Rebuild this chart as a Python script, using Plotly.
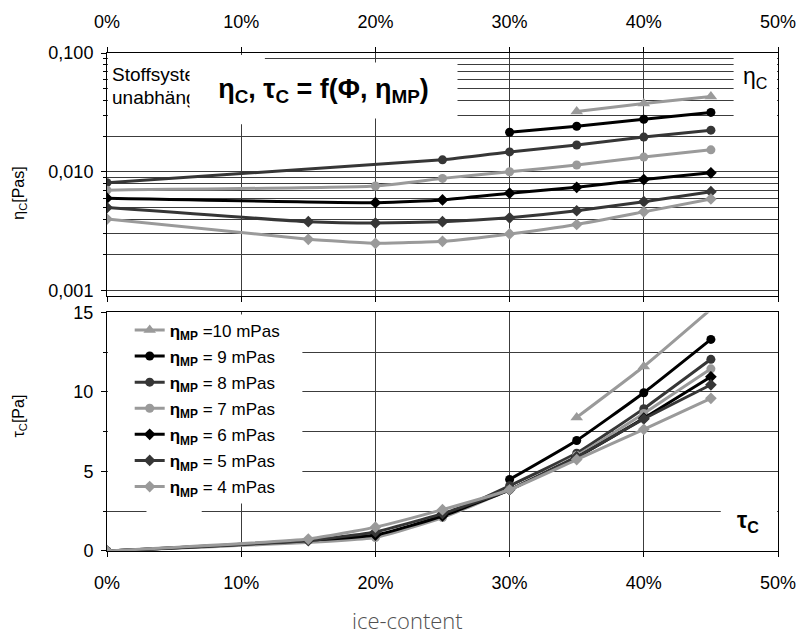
import plotly.graph_objects as go

# ---------------- data ----------------
series_names = ["=10 mPas", "= 9 mPas", "= 8 mPas", "= 7 mPas", "= 6 mPas", "= 5 mPas", "= 4 mPas"]
colors = ["#9a9a9a", "#000000", "#363636", "#9a9a9a", "#000000", "#363636", "#9a9a9a"]
symbols = ["triangle-up", "circle", "circle", "circle", "diamond", "diamond", "diamond"]

# ice content (fraction) for each series - upper chart (eta_C)
x10 = [0.35, 0.40, 0.45]
x9 = [0.30, 0.35, 0.40, 0.45]
x8 = [0.0, 0.25, 0.30, 0.35, 0.40, 0.45]
x7 = [0.0, 0.20, 0.25, 0.30, 0.35, 0.40, 0.45]
x6 = [0.0, 0.20, 0.25, 0.30, 0.35, 0.40, 0.45]
x5 = [0.0, 0.15, 0.20, 0.25, 0.30, 0.35, 0.40, 0.45]
x4 = [0.0, 0.15, 0.20, 0.25, 0.30, 0.35, 0.40, 0.45]

# eta_C [Pas]
eta10 = [0.0322, 0.0376, 0.0430]
eta9 = [0.0215, 0.0242, 0.0277, 0.0316]
eta8 = [0.0081, 0.0126, 0.0147, 0.0168, 0.0196, 0.0224]
eta7 = [0.0070, 0.0076, 0.0088, 0.0100, 0.0114, 0.0133, 0.0153]
eta6 = [0.0060, 0.0055, 0.0058, 0.0066, 0.0074, 0.0086, 0.0098]
eta5 = [0.0050, 0.0038, 0.0037, 0.0038, 0.0041, 0.0047, 0.0056, 0.0068]
eta4 = [0.0040, 0.0027, 0.0025, 0.0026, 0.0030, 0.0036, 0.0046, 0.0059]

# ice content for lower chart (tau_C)
xt10 = [0.35, 0.40, 0.45]
xt9 = [0.30, 0.35, 0.40, 0.45]
xt8 = [0.0, 0.20, 0.25, 0.30, 0.35, 0.40, 0.45]
xt7 = [0.0, 0.20, 0.25, 0.30, 0.35, 0.40, 0.45]
xt6 = [0.0, 0.20, 0.25, 0.30, 0.35, 0.40, 0.45]
xt5 = [0.0, 0.15, 0.20, 0.25, 0.30, 0.35, 0.40, 0.45]
xt4 = [0.0, 0.15, 0.20, 0.25, 0.30, 0.35, 0.40, 0.45]

# tau_C [Pa]
tau10 = [8.4, 11.6, 15.2]
tau9 = [4.5, 6.95, 9.95, 13.3]
tau8 = [0.0, 0.95, 2.2, 4.1, 6.15, 8.95, 12.05]
tau7 = [0.0, 0.85, 2.1, 3.85, 6.0, 8.65, 11.45]
tau6 = [0.0, 1.0, 2.2, 3.85, 5.9, 8.35, 10.95]
tau5 = [0.0, 0.65, 1.2, 2.35, 3.85, 5.9, 8.3, 10.45]
tau4 = [0.0, 0.75, 1.5, 2.6, 3.85, 5.75, 7.65, 9.6]

x_ticks = [0.0, 0.1, 0.2, 0.3, 0.4, 0.5]
eta_ticks = [0.001, 0.01, 0.1]
eta_ticktext = ["0,001", "0,010", "0,100"]
tau_ticks = [0, 5, 10, 15]

xs = [x10, x9, x8, x7, x6, x5, x4]
xts = [xt10, xt9, xt8, xt7, xt6, xt5, xt4]
etas = [eta10, eta9, eta8, eta7, eta6, eta5, eta4]
taus = [tau10, tau9, tau8, tau7, tau6, tau5, tau4]

# ---------------- layout helpers ----------------
W, H = 808, 634
L, R, T, B = 107, 787, 48, 551


def px(x):
    return (x - L) / (R - L)


def py(y):
    return (B - y) / (B - T)


FONT = "Liberation Sans, Arial, sans-serif"
GRID = "#3c3c3c"

fig = go.Figure()

for i in range(7):
    msize = 11 if symbols[i] == "triangle-up" else 9
    fig.add_trace(go.Scatter(
        x=xs[i], y=etas[i], xaxis="x", yaxis="y",
        mode="lines+markers",
        line=dict(color=colors[i], width=3, shape="spline", smoothing=0.4),
        marker=dict(symbol=symbols[i], size=msize, color=colors[i]),
        showlegend=False, legendgroup="g%d" % i,
    ))

for i in range(7):
    msize = 11 if symbols[i] == "triangle-up" else 9
    fig.add_trace(go.Scatter(
        x=xts[i], y=taus[i], xaxis="x2", yaxis="y2",
        mode="lines+markers",
        line=dict(color=colors[i], width=3, shape="spline", smoothing=0.4),
        marker=dict(symbol=symbols[i], size=msize, color=colors[i]),
        name="<b>\u03b7<sub>MP</sub></b> " + series_names[i],
        legendgroup="g%d" % i,
    ))

minor_eta = [k * 10.0 ** e for e in (-3, -2) for k in range(2, 10)]

axis_common = dict(showline=True, linecolor="black", linewidth=1,
                   gridcolor=GRID, gridwidth=1, zeroline=False,
                   tickfont=dict(family=FONT, size=18, color="black"),
                   ticks="outside", tickcolor="black", ticklen=5)

fig.update_layout(
    width=W, height=H,
    margin=dict(l=L, r=W - R, t=T, b=H - B, pad=0),
    paper_bgcolor="white", plot_bgcolor="white",
    xaxis=dict(domain=[0, 1], anchor="y", side="top", range=[0, 0.5],
               tickvals=x_ticks, tickformat=".0%", mirror="ticks",
               ticklabelstandoff=12, showgrid=True, **axis_common),
    yaxis=dict(domain=[py(293), 1], anchor="x", type="log",
               range=[-3.042, -1], tickvals=eta_ticks, ticktext=eta_ticktext,
               mirror=True, showgrid=True, ticklabelstandoff=4,
               minor=dict(tickvals=minor_eta, showgrid=True, gridcolor=GRID,
                          ticks="outside", ticklen=3, tickcolor="black"),
               **axis_common),
    xaxis2=dict(domain=[0, 1], anchor="y2", side="bottom", range=[0, 0.5],
                tickvals=x_ticks, tickformat=".0%", mirror=True,
                ticklabelstandoff=10, showgrid=True, **axis_common),
    yaxis2=dict(domain=[0, py(310)], anchor="x2", range=[0, 15],
                tickvals=tau_ticks, mirror=True, showgrid=True,
                ticklabelstandoff=4,
                minor=dict(dtick=2.5, showgrid=True, gridcolor=GRID,
                           ticks="outside", ticklen=3, tickcolor="black"),
                **axis_common),
    legend=dict(x=px(130), y=py(310), xanchor="left", yanchor="top",
                bgcolor="rgba(0,0,0,0)", borderwidth=0,
                font=dict(family=FONT, size=17, color="black"),
                tracegroupgap=1, itemwidth=30),
    showlegend=True,
)


def white_rect(x0, y0, x1, y1):
    fig.add_shape(type="rect", xref="paper", yref="paper",
                  x0=px(x0), x1=px(x1), y0=py(y1), y1=py(y0),
                  fillcolor="white", line=dict(width=0), layer="above")


white_rect(108, 50, 267, 120)   # Stoffsystem box
white_rect(742, 50, 786, 125)   # eta_C label box
white_rect(108, 312, 305, 503)  # legend box
white_rect(729, 495, 786, 540)  # tau_C label box
white_rect(147, 505, 203, 516)

ann = []
ann.append(dict(text="Stoffsystem-", x=px(110), y=py(70), xanchor="left",
                yanchor="middle", font=dict(family=FONT, size=19, color="black")))
ann.append(dict(text="unabhängig", x=px(110), y=py(93), xanchor="left",
                yanchor="middle", font=dict(family=FONT, size=19, color="black")))
ann.append(dict(text="<b>\u03b7<sub>C</sub>, \u03c4<sub>C</sub> = f(\u03a6, \u03b7<sub>MP</sub>)</b>",
                x=px(190), y=py(57), xanchor="left", yanchor="top",
                width=267, height=55, bgcolor="white", borderpad=0,
                align="center", valign="middle",
                font=dict(family=FONT, size=27, color="black")))
ann.append(dict(text="\u03b7<sub>C</sub>", x=px(764), y=py(73), xanchor="center",
                yanchor="middle", font=dict(family=FONT, size=23, color="black")))
ann.append(dict(text="<b>\u03c4<sub>C</sub></b>", x=px(757), y=py(521), xanchor="center",
                yanchor="middle", font=dict(family=FONT, size=23, color="black")))
ann.append(dict(text="\u03b7<sub>C</sub>[Pas]", x=px(18), y=py(190), xanchor="center",
                yanchor="middle", textangle=-90,
                font=dict(family=FONT, size=16, color="black")))
ann.append(dict(text="\u03c4<sub>C</sub>[Pa]", x=px(18), y=py(415), xanchor="center",
                yanchor="middle", textangle=-90,
                font=dict(family=FONT, size=16, color="black")))
ann.append(dict(text="ice-content", x=px(412), y=py(621), xanchor="center",
                yanchor="middle",
                font=dict(family="Open Sans", size=22, color="#505050", weight=300)))

for a in ann:
    a.update(xref="paper", yref="paper", showarrow=False)
    fig.add_annotation(**a)

fig.write_html("out.html")
